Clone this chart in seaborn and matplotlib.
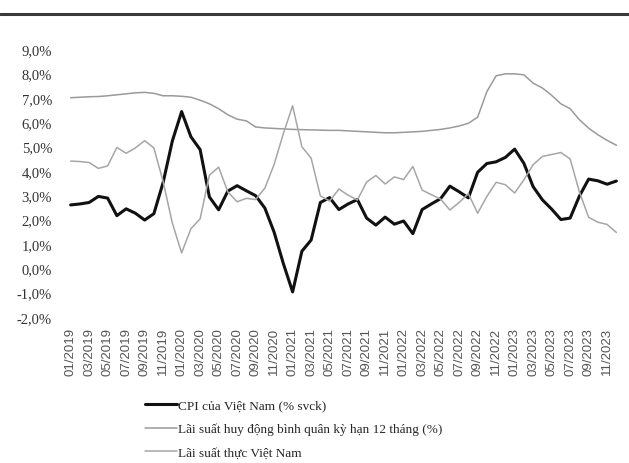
import matplotlib
matplotlib.use("Agg")
import matplotlib.pyplot as plt
import seaborn as sns
import pandas as pd
from matplotlib.lines import Line2D
from matplotlib.ticker import FuncFormatter

# monthly series, 01/2019 .. 12/2023
months = [f"{m:02d}/{y}" for y in range(2019, 2024) for m in range(1, 13)]

cpi = [2.60, 2.64, 2.70, 2.95, 2.88, 2.16, 2.44, 2.26, 1.98, 2.24, 3.52, 5.23,
       6.43, 5.40, 4.87, 2.93, 2.40, 3.17, 3.39, 3.18, 2.98, 2.47, 1.48, 0.19,
       -0.97, 0.70, 1.16, 2.70, 2.90, 2.41, 2.64, 2.82, 2.06, 1.77, 2.10, 1.81,
       1.94, 1.42, 2.41, 2.64, 2.86, 3.37, 3.14, 2.89, 3.94, 4.30, 4.37, 4.55,
       4.89, 4.31, 3.35, 2.81, 2.43, 2.00, 2.06, 2.96, 3.66, 3.59, 3.45, 3.58]

deposit_rate = [7.00, 7.02, 7.04, 7.05, 7.08, 7.12, 7.16, 7.20, 7.22, 7.18, 7.08, 7.08,
                7.06, 7.02, 6.90, 6.75, 6.55, 6.30, 6.12, 6.05, 5.80, 5.76, 5.74, 5.72,
                5.70, 5.69, 5.68, 5.67, 5.66, 5.66, 5.64, 5.62, 5.60, 5.58, 5.56, 5.56,
                5.58, 5.60, 5.62, 5.66, 5.70, 5.76, 5.84, 5.95, 6.20, 7.25, 7.90, 7.98,
                7.98, 7.94, 7.60, 7.40, 7.10, 6.75, 6.55, 6.10, 5.75, 5.48, 5.25, 5.05]

real_rate = [4.40, 4.38, 4.34, 4.10, 4.20, 4.96, 4.72, 4.94, 5.24, 4.94, 3.56, 1.85,
             0.63, 1.62, 2.03, 3.82, 4.15, 3.13, 2.73, 2.87, 2.82, 3.29, 4.26, 5.53,
             6.67, 4.99, 4.52, 2.97, 2.76, 3.25, 3.00, 2.80, 3.54, 3.81, 3.46, 3.75,
             3.64, 4.18, 3.21, 3.02, 2.84, 2.39, 2.70, 3.06, 2.26, 2.95, 3.53, 3.43,
             3.09, 3.63, 4.25, 4.59, 4.67, 4.75, 4.49, 3.14, 2.09, 1.89, 1.80, 1.47]

labels = ["CPI của Việt Nam (% svck)",
          "Lãi suất huy động bình quân kỳ hạn 12 tháng (%)",
          "Lãi suất thực Việt Nam"]

sns.set_style("white")
plt.rcParams["font.family"] = ["Liberation Serif", "DejaVu Serif"]

fig = plt.figure(figsize=(6.29, 4.64), dpi=100)
ax = fig.add_axes([66 / 629, 1 - 318 / 464, 555 / 629, 268 / 464])

x = list(range(len(months)))
sns.lineplot(x=x, y=cpi, ax=ax, color="#111111", linewidth=2.2, label=labels[0])
sns.lineplot(x=x, y=deposit_rate, ax=ax, color="#9a9a9a", linewidth=1.1, label=labels[1])
sns.lineplot(x=x, y=real_rate, ax=ax, color="#a6a6a6", linewidth=1.1, label=labels[2])

ax.set_xlim(-0.5, 59.5)
ax.set_ylim(-2, 9)
ax.set_yticks(range(-2, 10))
ax.yaxis.set_major_formatter(FuncFormatter(lambda v, p: f"{v:.1f}%".replace(".", ",")))
ax.set_xticks(x[::2])
ax.set_xticklabels(months[::2], rotation=90, family="Liberation Sans", fontsize=9.5, color="#555555")
ax.tick_params(axis="y", labelsize=10.5, colors="#333333", length=0, pad=10)
ax.tick_params(axis="x", length=0, pad=7)
sns.despine(ax=ax, left=True, bottom=True)

ax.legend_.remove()
handles, lbls = ax.get_legend_handles_labels()
fig.legend(handles, lbls, loc="upper left", bbox_to_anchor=(140 / 629, 1 - 395 / 464),
           frameon=False, fontsize=9.5, handlelength=2.4, handletextpad=0.1,
           labelspacing=0.85, borderaxespad=0)

# rule across the top of the page
fig.add_artist(Line2D([0, 1], [1 - 15 / 464, 1 - 15 / 464], transform=fig.transFigure,
                      color="#3a3a3a", linewidth=2.2))

fig.savefig("out.png", dpi=100)
